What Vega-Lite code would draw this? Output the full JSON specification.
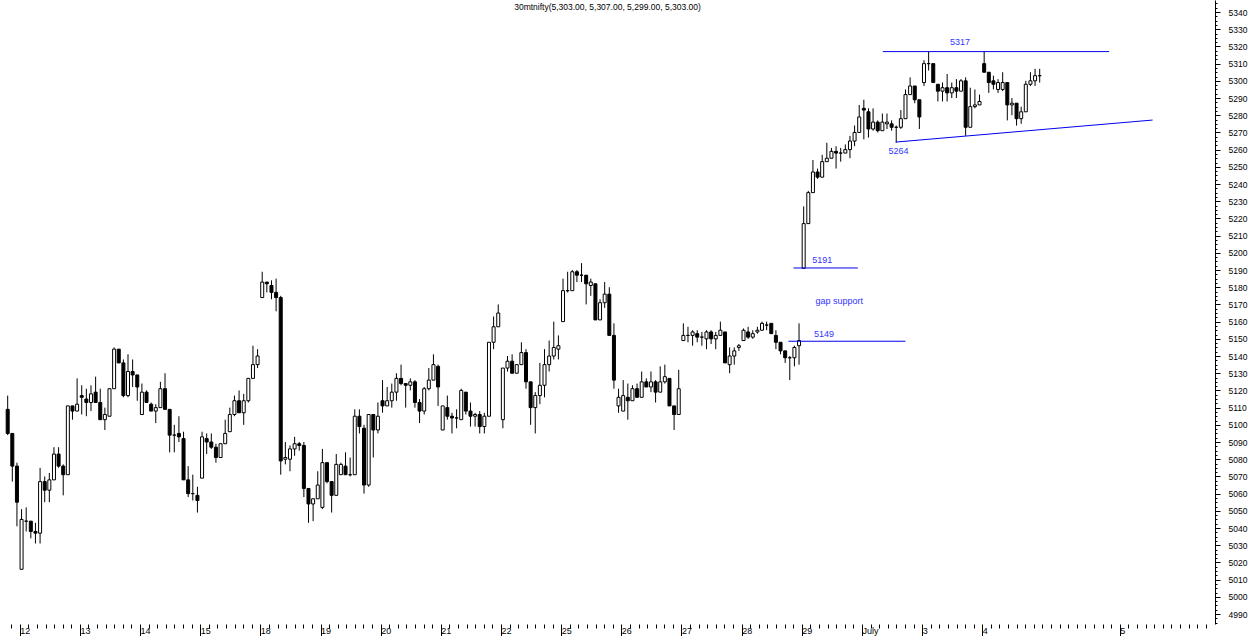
{
  "$schema": "https://vega.github.io/schema/vega-lite/v6.json",
  "width": 1215,
  "height": 624,
  "autosize": {"type": "none"},
  "padding": {"left": 0, "top": 0, "right": 35, "bottom": 12},
  "background": "white",
  "config": {"view": {"stroke": null}, "font": "Liberation Sans"},
  "title": {"text": "30mtnifty(5,303.00, 5,307.00, 5,299.00, 5,303.00)", "anchor": "middle", "fontSize": 8.5, "fontWeight": "normal", "color": "black", "font": "Liberation Sans", "baseline": "top", "offset": -12},
  "datasets": {
    "candles": [
      {"i":0,"o":5109,"h":5117,"l":5094,"c":5095},
      {"i":1,"o":5095,"h":5095,"l":5067,"c":5076},
      {"i":2,"o":5076,"h":5078,"l":5041,"c":5055},
      {"i":3,"o":5016,"h":5051,"l":5016,"c":5045},
      {"i":4,"o":5044,"h":5052,"l":5038,"c":5044},
      {"i":5,"o":5044,"h":5044,"l":5034,"c":5038},
      {"i":6,"o":5038,"h":5043,"l":5031,"c":5037},
      {"i":7,"o":5037,"h":5075,"l":5031,"c":5067},
      {"i":8,"o":5067,"h":5070,"l":5055,"c":5062},
      {"i":9,"o":5062,"h":5072,"l":5055,"c":5068},
      {"i":10,"o":5068,"h":5087,"l":5068,"c":5083},
      {"i":11,"o":5083,"h":5087,"l":5075,"c":5076},
      {"i":12,"o":5076,"h":5077,"l":5059,"c":5071},
      {"i":13,"o":5071,"h":5111,"l":5071,"c":5111},
      {"i":14,"o":5111,"h":5111,"l":5103,"c":5108},
      {"i":15,"o":5108,"h":5127,"l":5108,"c":5112},
      {"i":16,"o":5117,"h":5123,"l":5106,"c":5116},
      {"i":17,"o":5115,"h":5121,"l":5105,"c":5113},
      {"i":18,"o":5113,"h":5123,"l":5108,"c":5118},
      {"i":19,"o":5119,"h":5128,"l":5113,"c":5113},
      {"i":20,"o":5113,"h":5121,"l":5103,"c":5103},
      {"i":21,"o":5103,"h":5110,"l":5097,"c":5106},
      {"i":22,"o":5105,"h":5121,"l":5105,"c":5121},
      {"i":23,"o":5121,"h":5145,"l":5121,"c":5144},
      {"i":24,"o":5144,"h":5144,"l":5136,"c":5136},
      {"i":25,"o":5136,"h":5138,"l":5116,"c":5117},
      {"i":26,"o":5117,"h":5141,"l":5116,"c":5131},
      {"i":27,"o":5131,"h":5138,"l":5122,"c":5129},
      {"i":28,"o":5129,"h":5129,"l":5114,"c":5122},
      {"i":29,"o":5106,"h":5124,"l":5106,"c":5119},
      {"i":30,"o":5119,"h":5120,"l":5113,"c":5113},
      {"i":31,"o":5112,"h":5113,"l":5108,"c":5108},
      {"i":32,"o":5108,"h":5112,"l":5101,"c":5110},
      {"i":33,"o":5110,"h":5125,"l":5110,"c":5121},
      {"i":34,"o":5121,"h":5130,"l":5109,"c":5109},
      {"i":35,"o":5109,"h":5109,"l":5084,"c":5094},
      {"i":36,"o":5094,"h":5100,"l":5084,"c":5094},
      {"i":37,"o":5095,"h":5105,"l":5090,"c":5093},
      {"i":38,"o":5092,"h":5096,"l":5068,"c":5068},
      {"i":39,"o":5068,"h":5076,"l":5058,"c":5060},
      {"i":40,"o":5060,"h":5071,"l":5056,"c":5060},
      {"i":41,"o":5059,"h":5064,"l":5049,"c":5056},
      {"i":42,"o":5069,"h":5096,"l":5069,"c":5093},
      {"i":43,"o":5092,"h":5095,"l":5083,"c":5090},
      {"i":44,"o":5090,"h":5095,"l":5086,"c":5087},
      {"i":45,"o":5087,"h":5089,"l":5078,"c":5081},
      {"i":46,"o":5081,"h":5089,"l":5081,"c":5089},
      {"i":47,"o":5089,"h":5103,"l":5089,"c":5095},
      {"i":48,"o":5096,"h":5110,"l":5096,"c":5106},
      {"i":49,"o":5106,"h":5117,"l":5105,"c":5114},
      {"i":50,"o":5114,"h":5120,"l":5107,"c":5107},
      {"i":51,"o":5107,"h":5118,"l":5100,"c":5114},
      {"i":52,"o":5114,"h":5127,"l":5113,"c":5127},
      {"i":53,"o":5127,"h":5146,"l":5127,"c":5135},
      {"i":54,"o":5135,"h":5144,"l":5133,"c":5140},
      {"i":55,"o":5174,"h":5189,"l":5174,"c":5183},
      {"i":56,"o":5183,"h":5183,"l":5177,"c":5182},
      {"i":57,"o":5181,"h":5184,"l":5173,"c":5177},
      {"i":58,"o":5177,"h":5185,"l":5166,"c":5174},
      {"i":59,"o":5174,"h":5175,"l":5071,"c":5079},
      {"i":60,"o":5080,"h":5090,"l":5077,"c":5081},
      {"i":61,"o":5080,"h":5088,"l":5073,"c":5086},
      {"i":62,"o":5086,"h":5093,"l":5082,"c":5089},
      {"i":63,"o":5089,"h":5090,"l":5085,"c":5088},
      {"i":64,"o":5088,"h":5090,"l":5058,"c":5063},
      {"i":65,"o":5063,"h":5063,"l":5043,"c":5054},
      {"i":66,"o":5054,"h":5057,"l":5044,"c":5057},
      {"i":67,"o":5057,"h":5073,"l":5057,"c":5065},
      {"i":68,"o":5052,"h":5086,"l":5051,"c":5078},
      {"i":69,"o":5078,"h":5078,"l":5066,"c":5067},
      {"i":70,"o":5067,"h":5067,"l":5049,"c":5059},
      {"i":71,"o":5059,"h":5083,"l":5059,"c":5077},
      {"i":72,"o":5071,"h":5078,"l":5071,"c":5077},
      {"i":73,"o":5076,"h":5084,"l":5071,"c":5071},
      {"i":74,"o":5071,"h":5081,"l":5070,"c":5071},
      {"i":75,"o":5071,"h":5109,"l":5071,"c":5105},
      {"i":76,"o":5105,"h":5109,"l":5095,"c":5099},
      {"i":77,"o":5098,"h":5100,"l":5060,"c":5065},
      {"i":78,"o":5065,"h":5106,"l":5064,"c":5106},
      {"i":79,"o":5106,"h":5106,"l":5081,"c":5097},
      {"i":80,"o":5097,"h":5113,"l":5095,"c":5105},
      {"i":81,"o":5114,"h":5126,"l":5107,"c":5111},
      {"i":82,"o":5111,"h":5122,"l":5111,"c":5114},
      {"i":83,"o":5114,"h":5124,"l":5110,"c":5119},
      {"i":84,"o":5119,"h":5130,"l":5114,"c":5127},
      {"i":85,"o":5127,"h":5135,"l":5123,"c":5124},
      {"i":86,"o":5124,"h":5124,"l":5110,"c":5123},
      {"i":87,"o":5123,"h":5127,"l":5120,"c":5125},
      {"i":88,"o":5125,"h":5126,"l":5110,"c":5113},
      {"i":89,"o":5113,"h":5115,"l":5101,"c":5108},
      {"i":90,"o":5108,"h":5122,"l":5106,"c":5121},
      {"i":91,"o":5121,"h":5133,"l":5120,"c":5126},
      {"i":92,"o":5126,"h":5141,"l":5126,"c":5135},
      {"i":93,"o":5134,"h":5135,"l":5111,"c":5122},
      {"i":94,"o":5097,"h":5111,"l":5097,"c":5111},
      {"i":95,"o":5110,"h":5117,"l":5103,"c":5105},
      {"i":96,"o":5105,"h":5107,"l":5095,"c":5104},
      {"i":97,"o":5104,"h":5109,"l":5098,"c":5104},
      {"i":98,"o":5103,"h":5121,"l":5103,"c":5120},
      {"i":99,"o":5119,"h":5119,"l":5106,"c":5108},
      {"i":100,"o":5108,"h":5113,"l":5099,"c":5105},
      {"i":101,"o":5105,"h":5107,"l":5099,"c":5106},
      {"i":102,"o":5106,"h":5108,"l":5095,"c":5099},
      {"i":103,"o":5099,"h":5107,"l":5095,"c":5105},
      {"i":104,"o":5105,"h":5148,"l":5105,"c":5148},
      {"i":105,"o":5148,"h":5163,"l":5144,"c":5157},
      {"i":106,"o":5157,"h":5170,"l":5157,"c":5165},
      {"i":107,"o":5103,"h":5133,"l":5098,"c":5133},
      {"i":108,"o":5133,"h":5140,"l":5131,"c":5137},
      {"i":109,"o":5137,"h":5141,"l":5130,"c":5130},
      {"i":110,"o":5130,"h":5135,"l":5130,"c":5135},
      {"i":111,"o":5135,"h":5148,"l":5135,"c":5142},
      {"i":112,"o":5142,"h":5144,"l":5121,"c":5125},
      {"i":113,"o":5125,"h":5125,"l":5100,"c":5110},
      {"i":114,"o":5110,"h":5119,"l":5095,"c":5117},
      {"i":115,"o":5117,"h":5136,"l":5112,"c":5123},
      {"i":116,"o":5123,"h":5144,"l":5116,"c":5135},
      {"i":117,"o":5135,"h":5149,"l":5131,"c":5140},
      {"i":118,"o":5140,"h":5160,"l":5138,"c":5145},
      {"i":119,"o":5144,"h":5152,"l":5138,"c":5146},
      {"i":120,"o":5160,"h":5185,"l":5160,"c":5178},
      {"i":121,"o":5178,"h":5189,"l":5177,"c":5178},
      {"i":122,"o":5178,"h":5190,"l":5178,"c":5189},
      {"i":123,"o":5189,"h":5190,"l":5183,"c":5187},
      {"i":124,"o":5187,"h":5194,"l":5183,"c":5187},
      {"i":125,"o":5187,"h":5187,"l":5170,"c":5182},
      {"i":126,"o":5181,"h":5185,"l":5175,"c":5183},
      {"i":127,"o":5182,"h":5182,"l":5161,"c":5161},
      {"i":128,"o":5161,"h":5173,"l":5161,"c":5171},
      {"i":129,"o":5171,"h":5183,"l":5168,"c":5176},
      {"i":130,"o":5176,"h":5180,"l":5152,"c":5152},
      {"i":131,"o":5152,"h":5159,"l":5121,"c":5126},
      {"i":132,"o":5111,"h":5121,"l":5107,"c":5116},
      {"i":133,"o":5108,"h":5126,"l":5108,"c":5117},
      {"i":134,"o":5116,"h":5124,"l":5103,"c":5114},
      {"i":135,"o":5114,"h":5123,"l":5114,"c":5121},
      {"i":136,"o":5121,"h":5124,"l":5116,"c":5116},
      {"i":137,"o":5116,"h":5131,"l":5116,"c":5125},
      {"i":138,"o":5125,"h":5127,"l":5122,"c":5122},
      {"i":139,"o":5122,"h":5131,"l":5119,"c":5125},
      {"i":140,"o":5125,"h":5126,"l":5113,"c":5119},
      {"i":141,"o":5119,"h":5134,"l":5119,"c":5125},
      {"i":142,"o":5125,"h":5135,"l":5124,"c":5128},
      {"i":143,"o":5127,"h":5127,"l":5111,"c":5111},
      {"i":144,"o":5111,"h":5111,"l":5097,"c":5106},
      {"i":145,"o":5106,"h":5132,"l":5106,"c":5121},
      {"i":146,"o":5149,"h":5159,"l":5149,"c":5152},
      {"i":147,"o":5152,"h":5157,"l":5148,"c":5152},
      {"i":148,"o":5152,"h":5155,"l":5146,"c":5154},
      {"i":149,"o":5153,"h":5155,"l":5148,"c":5151},
      {"i":150,"o":5151,"h":5154,"l":5146,"c":5151},
      {"i":151,"o":5150,"h":5155,"l":5144,"c":5154},
      {"i":152,"o":5154,"h":5155,"l":5147,"c":5150},
      {"i":153,"o":5150,"h":5154,"l":5144,"c":5152},
      {"i":154,"o":5152,"h":5160,"l":5152,"c":5155},
      {"i":155,"o":5154,"h":5154,"l":5136,"c":5136},
      {"i":156,"o":5135,"h":5145,"l":5130,"c":5140},
      {"i":157,"o":5140,"h":5145,"l":5135,"c":5143},
      {"i":158,"o":5145,"h":5147,"l":5143,"c":5146},
      {"i":159,"o":5149,"h":5156,"l":5149,"c":5155},
      {"i":160,"o":5154,"h":5157,"l":5150,"c":5151},
      {"i":161,"o":5151,"h":5155,"l":5150,"c":5153},
      {"i":162,"o":5154,"h":5157,"l":5153,"c":5155},
      {"i":163,"o":5155,"h":5160,"l":5155,"c":5159},
      {"i":164,"o":5158,"h":5160,"l":5155,"c":5158},
      {"i":165,"o":5159,"h":5159,"l":5153,"c":5153},
      {"i":166,"o":5152,"h":5155,"l":5144,"c":5148},
      {"i":167,"o":5148,"h":5148,"l":5141,"c":5143},
      {"i":168,"o":5143,"h":5143,"l":5136,"c":5139},
      {"i":169,"o":5139,"h":5140,"l":5126,"c":5139},
      {"i":170,"o":5139,"h":5146,"l":5134,"c":5145},
      {"i":171,"o":5146,"h":5159,"l":5135,"c":5149},
      {"i":172,"o":5191,"h":5227,"l":5191,"c":5217},
      {"i":173,"o":5217,"h":5236,"l":5217,"c":5235},
      {"i":174,"o":5235,"h":5254,"l":5235,"c":5247},
      {"i":175,"o":5247,"h":5249,"l":5243,"c":5244},
      {"i":176,"o":5244,"h":5257,"l":5244,"c":5253},
      {"i":177,"o":5253,"h":5264,"l":5253,"c":5255},
      {"i":178,"o":5255,"h":5261,"l":5255,"c":5259},
      {"i":179,"o":5259,"h":5262,"l":5249,"c":5258},
      {"i":180,"o":5258,"h":5261,"l":5253,"c":5258},
      {"i":181,"o":5258,"h":5263,"l":5258,"c":5260},
      {"i":182,"o":5260,"h":5268,"l":5255,"c":5265},
      {"i":183,"o":5265,"h":5274,"l":5262,"c":5270},
      {"i":184,"o":5270,"h":5286,"l":5270,"c":5279},
      {"i":185,"o":5284,"h":5289,"l":5266,"c":5283},
      {"i":186,"o":5282,"h":5284,"l":5267,"c":5272},
      {"i":187,"o":5272,"h":5284,"l":5271,"c":5276},
      {"i":188,"o":5276,"h":5277,"l":5270,"c":5271},
      {"i":189,"o":5271,"h":5281,"l":5271,"c":5276},
      {"i":190,"o":5275,"h":5281,"l":5272,"c":5276},
      {"i":191,"o":5275,"h":5277,"l":5271,"c":5273},
      {"i":192,"o":5273,"h":5274,"l":5264,"c":5273},
      {"i":193,"o":5273,"h":5283,"l":5272,"c":5278},
      {"i":194,"o":5278,"h":5295,"l":5278,"c":5292},
      {"i":195,"o":5292,"h":5302,"l":5292,"c":5297},
      {"i":196,"o":5297,"h":5297,"l":5287,"c":5289},
      {"i":197,"o":5289,"h":5289,"l":5272,"c":5279},
      {"i":198,"o":5299,"h":5312,"l":5297,"c":5310},
      {"i":199,"o":5310,"h":5317,"l":5306,"c":5310},
      {"i":200,"o":5310,"h":5310,"l":5299,"c":5299},
      {"i":201,"o":5298,"h":5298,"l":5288,"c":5294},
      {"i":202,"o":5294,"h":5299,"l":5288,"c":5296},
      {"i":203,"o":5296,"h":5304,"l":5288,"c":5293},
      {"i":204,"o":5293,"h":5299,"l":5290,"c":5296},
      {"i":205,"o":5296,"h":5301,"l":5290,"c":5294},
      {"i":206,"o":5294,"h":5301,"l":5294,"c":5300},
      {"i":207,"o":5300,"h":5302,"l":5268,"c":5273},
      {"i":208,"o":5273,"h":5296,"l":5273,"c":5285},
      {"i":209,"o":5285,"h":5295,"l":5284,"c":5286},
      {"i":210,"o":5286,"h":5292,"l":5286,"c":5288},
      {"i":211,"o":5310,"h":5317,"l":5305,"c":5305},
      {"i":212,"o":5305,"h":5305,"l":5293,"c":5299},
      {"i":213,"o":5300,"h":5303,"l":5295,"c":5298},
      {"i":214,"o":5295,"h":5301,"l":5293,"c":5299},
      {"i":215,"o":5295,"h":5305,"l":5294,"c":5299},
      {"i":216,"o":5299,"h":5299,"l":5277,"c":5286},
      {"i":217,"o":5286,"h":5290,"l":5280,"c":5287},
      {"i":218,"o":5287,"h":5287,"l":5274,"c":5278},
      {"i":219,"o":5278,"h":5285,"l":5275,"c":5282},
      {"i":220,"o":5282,"h":5300,"l":5282,"c":5298},
      {"i":221,"o":5298,"h":5305,"l":5297,"c":5300},
      {"i":222,"o":5300,"h":5307,"l":5297,"c":5303},
      {"i":223,"o":5303,"h":5307,"l":5299,"c":5303}
    ],
    "lines": [
      {"x1":189.1,"x2":238.0,"y1":5317,"y2":5317},
      {"x1":169.8,"x2":183.7,"y1":5191.2,"y2":5191.2},
      {"x1":168.7,"x2":194.0,"y1":5148.6,"y2":5148.6},
      {"x1":191.9,"x2":247.4,"y1":5264.4,"y2":5277.2}
    ],
    "labels": [
      {"x":205.8,"y":5322.5,"t":"5317"},
      {"x":176.0,"y":5196,"t":"5191"},
      {"x":179.7,"y":5172,"t":"gap support"},
      {"x":176.4,"y":5153,"t":"5149"},
      {"x":192.5,"y":5259,"t":"5264"}
    ]
  },
  "layer": [
    {
      "data": {"name": "candles"},
      "mark": {"type": "rule", "color": "black", "strokeWidth": 1},
      "encoding": {
        "x": {"field": "i", "type": "quantitative",
          "scale": {"domain": [-0.58, 259.8], "nice": false, "zero": false},
          "axis": {
            "title": null, "grid": false, "domain": false, "tickCount": 1000,
            "values": [0.7429,2.6,4.4571,6.3143,8.1714,10.0286,11.8857,13.7429,15.6,17.4571,19.3143,21.1714,23.0286,24.8857,26.7429,28.6,30.4571,32.3143,34.1714,36.0286,37.8857,39.7429,41.6,43.4571,45.3143,47.1714,49.0286,50.8857,52.7429,54.6,56.4571,58.3143,60.1714,62.0286,63.8857,65.7429,67.6,69.4571,71.3143,73.1714,75.0286,76.8857,78.7429,80.6,82.4571,84.3143,86.1714,88.0286,89.8857,91.7429,93.6,95.4571,97.3143,99.1714,101.0286,102.8857,104.7429,106.6,108.4571,110.3143,112.1714,114.0286,115.8857,117.7429,119.6,121.4571,123.3143,125.1714,127.0286,128.8857,130.7429,132.6,134.4571,136.3143,138.1714,140.0286,141.8857,143.7429,145.6,147.4571,149.3143,151.1714,153.0286,154.8857,156.7429,158.6,160.4571,162.3143,164.1714,166.0286,167.8857,169.7429,171.6,173.4571,175.3143,177.1714,179.0286,180.8857,182.7429,184.6,186.4571,188.3143,190.1714,192.0286,193.8857,195.7429,197.6,199.4571,201.3143,203.1714,205.0286,206.8857,208.7429,210.6,212.4571,214.3143,216.1714,218.0286,219.8857,221.7429,223.6,225.4571,227.3143,229.1714,231.0286,232.8857,234.7429,236.6,238.4571,240.3143,242.1714,244.0286,245.8857,247.7429,249.6,251.4571,253.3143,255.1714,257.0286,258.8857],
            "tickColor": "black", "tickWidth": 1,
            "tickSize": {"condition": {"test": "(abs((datum.value - 2.6) / 13 - round((datum.value - 2.6) / 13)) < 0.001 && datum.value < 215 && datum.value > 1) || abs(datum.value - 240.3143) < 0.01", "value": 12}, "value": 4},
            "labelExpr": "abs(datum.value - 240.3143) < 0.01 ? '5' : ((abs((datum.value - 2.6) / 13 - round((datum.value - 2.6) / 13)) < 0.001 && datum.value < 215 && datum.value > 1) ? ['12','13','14','15','18','19','20','21','22','25','26','27','28','29','July','3','4'][round((datum.value - 2.6) / 13)] : '')",
            "labelAlign": "left", "labelBaseline": "top", "labelPadding": -10, "labelDx": 2,
            "labelFontSize": 9, "labelColor": "black", "labelFont": "Liberation Sans",
            "labelFlush": false, "labelOverlap": false, "labelBound": false
          }
        },
        "y": {"field": "l", "type": "quantitative",
          "scale": {"domain": [4984.2, 5347], "nice": false, "zero": false},
          "axis": {
            "orient": "right", "title": null, "grid": false, "tickCount": 1000,
            "domain": true, "domainColor": "black", "domainWidth": 1,
            "values": [4985,4987.5,4990,4992.5,4995,4997.5,5000,5002.5,5005,5007.5,5010,5012.5,5015,5017.5,5020,5022.5,5025,5027.5,5030,5032.5,5035,5037.5,5040,5042.5,5045,5047.5,5050,5052.5,5055,5057.5,5060,5062.5,5065,5067.5,5070,5072.5,5075,5077.5,5080,5082.5,5085,5087.5,5090,5092.5,5095,5097.5,5100,5102.5,5105,5107.5,5110,5112.5,5115,5117.5,5120,5122.5,5125,5127.5,5130,5132.5,5135,5137.5,5140,5142.5,5145,5147.5,5150,5152.5,5155,5157.5,5160,5162.5,5165,5167.5,5170,5172.5,5175,5177.5,5180,5182.5,5185,5187.5,5190,5192.5,5195,5197.5,5200,5202.5,5205,5207.5,5210,5212.5,5215,5217.5,5220,5222.5,5225,5227.5,5230,5232.5,5235,5237.5,5240,5242.5,5245,5247.5,5250,5252.5,5255,5257.5,5260,5262.5,5265,5267.5,5270,5272.5,5275,5277.5,5280,5282.5,5285,5287.5,5290,5292.5,5295,5297.5,5300,5302.5,5305,5307.5,5310,5312.5,5315,5317.5,5320,5322.5,5325,5327.5,5330,5332.5,5335,5337.5,5340,5342.5,5345],
            "tickColor": "black", "tickWidth": 1,
            "tickSize": {"condition": {"test": "datum.value % 10 == 0", "value": 5}, "value": 2},
            "labelExpr": "datum.value % 10 == 0 ? '' + datum.value : ''",
            "labelPadding": 8, "labelFontSize": 8.5, "labelColor": "black", "labelFont": "Liberation Sans",
            "labelAlign": "left", "labelBaseline": "middle",
            "labelFlush": false, "labelOverlap": false, "labelBound": false
          }
        },
        "y2": {"field": "h"}
      }
    },
    {
      "data": {"name": "candles"},
      "mark": {"type": "bar", "width": 3, "stroke": "black", "strokeWidth": 1},
      "encoding": {
        "x": {"field": "i", "type": "quantitative"},
        "y": {"field": "o", "type": "quantitative"},
        "y2": {"field": "c"},
        "fill": {"condition": {"test": "datum.c >= datum.o", "value": "white"}, "value": "black"}
      }
    },
    {
      "data": {"name": "lines"},
      "mark": {"type": "rule", "color": "#0000ee", "strokeWidth": 1},
      "encoding": {
        "x": {"field": "x1", "type": "quantitative"},
        "x2": {"field": "x2"},
        "y": {"field": "y1", "type": "quantitative"},
        "y2": {"field": "y2"}
      }
    },
    {
      "data": {"name": "labels"},
      "mark": {"type": "text", "color": "#3333ff", "fontSize": 9, "font": "Liberation Sans"},
      "encoding": {
        "x": {"field": "x", "type": "quantitative"},
        "y": {"field": "y", "type": "quantitative"},
        "text": {"field": "t"}
      }
    }
  ]
}
